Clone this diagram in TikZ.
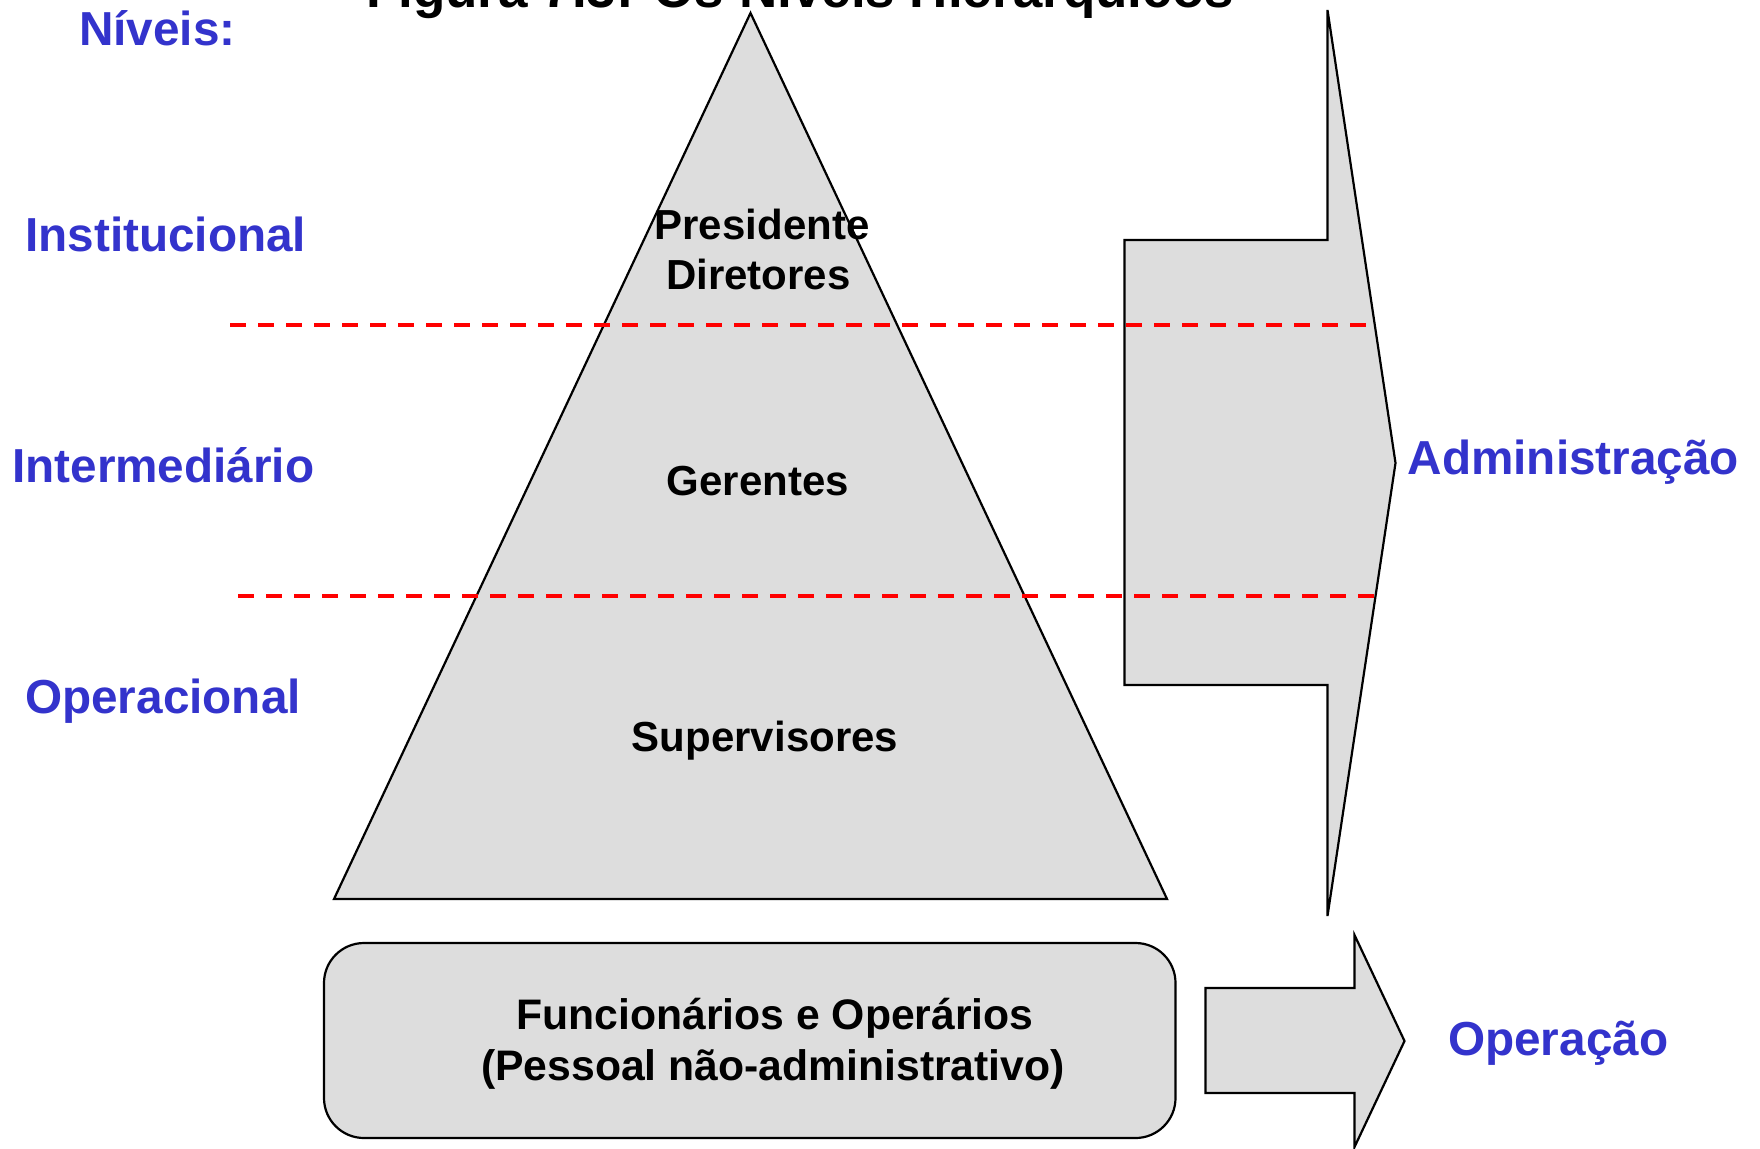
\documentclass[tikz,border=0pt]{standalone}
\usepackage{fontspec}
\setmainfont{Liberation Sans}
\definecolor{lvlblue}{RGB}{51,51,204}
\definecolor{shapegray}{RGB}{221,221,221}
\definecolor{cutred}{RGB}{255,0,0}
\begin{document}
\begin{tikzpicture}[x=1pt,y=-1pt,
  bluelbl/.style={inner sep=0pt,text=lvlblue,font=\fontsize{47.7}{57}\selectfont\bfseries},
  blacklbl/.style={inner sep=0pt,text=black,font=\fontsize{42}{51}\selectfont\bfseries},
  boxlbl/.style={inner sep=0pt,text=black,font=\fontsize{42.7}{51}\selectfont\bfseries},
  titlelbl/.style={inner sep=0pt,text=black,font=\fontsize{53}{63}\selectfont\bfseries},
  shapebox/.style={fill=shapegray,draw=black,line width=2.2pt,line join=miter},
  redcut/.style={draw=cutred,line width=3.5pt,dash pattern=on 16pt off 12pt}]
\useasboundingbox (0,0) rectangle (1760,1148);
\fill[white] (0,0) rectangle (1760,1148);
% title (cut off at the top edge)
\node[titlelbl,anchor=base] (title) at (800,8) {Figura 7.3: Os Níveis Hierárquicos};
% pyramid
\coordinate (apex) at (750.5,13);
\coordinate (bl) at (334,899);
\coordinate (br) at (1167,899);
\draw[shapebox] (apex) -- (br) -- (bl) -- cycle;
% big arrow (Administração)
\coordinate (ashl) at (1124.5,240);
\draw[shapebox] (ashl) -- (1327.5,240) -- (1327.5,10) -- (1395.5,463) -- (1327.5,916) -- (1327.5,685) -- (1124.5,685) -- cycle;
% red dashed level separators
\coordinate (c1a) at (230,325);
\coordinate (c1b) at (1373,325);
\coordinate (c2a) at (238,596);
\coordinate (c2b) at (1380,596);
\draw[redcut] (c1a) -- (c1b);
\draw[redcut] (c2a) -- (c2b);
% bottom rounded box
\draw[shapebox,rounded corners=40pt] (324,943) rectangle (1175.5,1138);
% small arrow (Operação)
\draw[shapebox] (1205.5,988) -- (1354.5,988) -- (1354.5,935) -- (1404.5,1041) -- (1354.5,1147) -- (1354.5,1093) -- (1205.5,1093) -- cycle;
% level labels
\node[bluelbl,anchor=base west] (niveis) at (79,46) {Níveis:};
\node[bluelbl,anchor=base west] (inst) at (25,251) {Institucional};
\node[bluelbl,anchor=base west] (inter) at (12,482) {Intermediário};
\node[bluelbl,anchor=base west] (oper) at (25,713) {Operacional};
\node[bluelbl,anchor=base west] (adm) at (1407.5,474) {Administração};
\node[bluelbl,anchor=base west] (opc) at (1448,1055) {Operação};
% pyramid texts
\node[blacklbl,anchor=base] (pres) at (762,239) {Presidente};
\node[blacklbl,anchor=base] (dir) at (758.5,289) {Diretores};
\node[blacklbl,anchor=base] (ger) at (758,495) {Gerentes};
\node[blacklbl,anchor=base] (sup) at (765,751) {Supervisores};
\node[boxlbl,anchor=base] (func) at (775,1029) {Funcionários e Operários};
\node[boxlbl,anchor=base] (pess) at (773,1080) {(Pessoal não-administrativo)};
\end{tikzpicture}
\end{document}
